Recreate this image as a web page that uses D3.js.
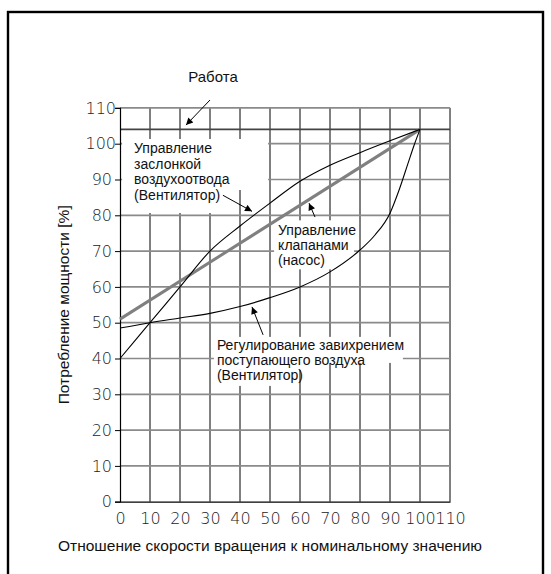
<!DOCTYPE html>
<html><head><meta charset="utf-8">
<script src="https://cdn.jsdelivr.net/npm/d3@7"></script>
<style>
html,body{margin:0;padding:0;background:#fff;}
svg{display:block;}
.tick text{font-family:"DejaVu Sans",sans-serif;font-weight:200;font-size:16px;fill:#222;}
.lbl{font-family:"Liberation Sans",Arial,sans-serif;font-size:14px;fill:#111;}
.ttl{font-family:"Liberation Sans",Arial,sans-serif;font-size:15.5px;fill:#111;}
</style></head>
<body>
<script>
// ---- data ----
const xTicks = [0,10,20,30,40,50,60,70,80,90,100,110];
const yTicks = [0,10,20,30,40,50,60,70,80,90,100,110];
const ratedLevel = 104;
const damperX = [0,10,20,30,40,50,60,70,80,90,100];
const damperY = [40,50,60,70,77,83.4,89.5,94,97.5,100.8,104];
const valveX = [0,100];
const valveY = [51,104];
const swirlX = [0,10,20,30,40,50,60,70,80,85,90,93,96,98,100];
const swirlY = [48.5,50,51.3,52.6,54.5,57,60,64.2,70.3,74.5,80.6,87,94.5,99.5,104];
const title = "Работа";
const xTitle = "Отношение скорости вращения к номинальному значению";
const yTitle = "Потребление мощности [%]";
const damperLabel = ["Управление","заслонкой","воздухоотвода","(Вентилятор)"];
const valveLabel = ["Управление","клапанами","(насос)"];
const swirlLabel = ["Регулирование завихрением","поступающего воздуха","(Вентилятор)"];

const W = 551, H = 574;
const svg = d3.select("body").append("svg").attr("width", W).attr("height", H);

// frame
svg.append("rect").attr("x",8).attr("y",12).attr("width",535).attr("height",580)
  .attr("fill","none").attr("stroke","#000").attr("stroke-width",2.4);

const x = d3.scaleLinear().domain([0,110]).range([120,450]);
const y = d3.scaleLinear().domain([0,110]).range([501.7,107.9]);

// grid
const grid = svg.append("g");
grid.selectAll("line.v").data(xTicks.filter(d=>d>0)).join("line")
  .attr("x1",d=>x(d)).attr("x2",d=>x(d)).attr("y1",y(0)).attr("y2",y(110))
  .attr("stroke","#000").attr("stroke-width",1);
grid.selectAll("line.h").data(yTicks.filter(d=>d>0)).join("line")
  .attr("x1",x(0)).attr("x2",x(110)).attr("y1",d=>y(d)).attr("y2",d=>y(d))
  .attr("stroke","#8a8a8a").attr("stroke-width",1.7);
// rated line
svg.append("line").attr("x1",x(0)).attr("x2",x(110)).attr("y1",y(ratedLevel)).attr("y2",y(ratedLevel))
  .attr("stroke","#444").attr("stroke-width",1.7);

// white label backgrounds (offsets in px from label anchor)
function boxes(ax, ay, rects){
  rects.forEach(r=>svg.append("rect").attr("x",x(ax)+r[0]).attr("y",y(ay)+r[1])
    .attr("width",r[2]).attr("height",r[3]).attr("fill","#fff"));
}
boxes(4.7, 97.4, [[-12,-14,146,51],[-12,37,102,23]]);
boxes(52.7, 74.4, [[-4,-15,80,49]]);
boxes(32.3, 42.4, [[-3,-13,189,26],[-3,13,112,7],[-3,20,84,16]]);

// axes
const ax = svg.append("g").attr("transform",`translate(${x(0)},0)`)
  .call(d3.axisLeft(y).tickValues(yTicks).tickSize(5).tickPadding(3).tickFormat(d3.format("d")));
ax.select(".domain").attr("stroke","#000").attr("stroke-width",1.2);
ax.selectAll(".tick line").attr("stroke","#000");
ax.selectAll(".tick text").attr("dx",d=>d>=100?4:0);
const bx = svg.append("g").attr("transform",`translate(0,${y(0)})`)
  .call(d3.axisBottom(x).tickValues(xTicks).tickSize(0).tickPadding(10.5).tickFormat(d3.format("d")));
bx.select(".domain").attr("stroke","#000").attr("stroke-width",1.2);

// curves
const line = d3.line().x(d=>x(d[0])).y(d=>y(d[1])).curve(d3.curveMonotoneX);
svg.append("path").datum(valveX.map((v,i)=>[v,valveY[i]])).attr("d",line)
  .attr("fill","none").attr("stroke","#808080").attr("stroke-width",3);
svg.append("path").datum(damperX.map((v,i)=>[v,damperY[i]])).attr("d",line)
  .attr("fill","none").attr("stroke","#000").attr("stroke-width",1.1);
svg.append("path").datum(swirlX.map((v,i)=>[v,swirlY[i]])).attr("d",line)
  .attr("fill","none").attr("stroke","#000").attr("stroke-width",1.1);

// labels
function label(ax, ay, lines, lh){
  const t = svg.append("text").attr("class","lbl").attr("x",x(ax)).attr("y",y(ay));
  lines.forEach((s,i)=>t.append("tspan").attr("x",x(ax)).attr("dy",i?lh:0).text(s));
}
label(4.7, 97.4, damperLabel, 15.5);
label(52.7, 74.4, valveLabel, 14.7);
label(32.3, 42.4, swirlLabel, 15);

svg.append("text").attr("class","lbl").style("font-size","15px").attr("text-anchor","middle")
  .attr("x",213).attr("y",82).text(title);
svg.append("text").attr("class","ttl").attr("text-anchor","middle")
  .attr("x",270).attr("y",551).text(xTitle);
svg.append("text").attr("class","ttl").attr("text-anchor","middle")
  .attr("transform",`translate(69,${(y(0)+y(110))/2}) rotate(-90)`).text(yTitle);

// arrows
const defs = svg.append("defs");
defs.append("marker").attr("id","ah").attr("viewBox","0 0 10 10").attr("refX",10).attr("refY",5)
  .attr("markerWidth",9).attr("markerHeight",7).attr("markerUnits","userSpaceOnUse").attr("orient","auto")
  .append("path").attr("d","M0,0L10,5L0,10Z").attr("fill","#000");
const arrows = [
  [30,112.2,22,105.2],
  [34.3,85.6,44,81.1],
  [65,79.5,63,83.4],
  [47.7,46.6,44,54.4]
];
arrows.forEach(a=>svg.append("line").attr("x1",x(a[0])).attr("y1",y(a[1])).attr("x2",x(a[2])).attr("y2",y(a[3]))
  .attr("stroke","#000").attr("stroke-width",1).attr("marker-end","url(#ah)"));
</script>
</body></html>
